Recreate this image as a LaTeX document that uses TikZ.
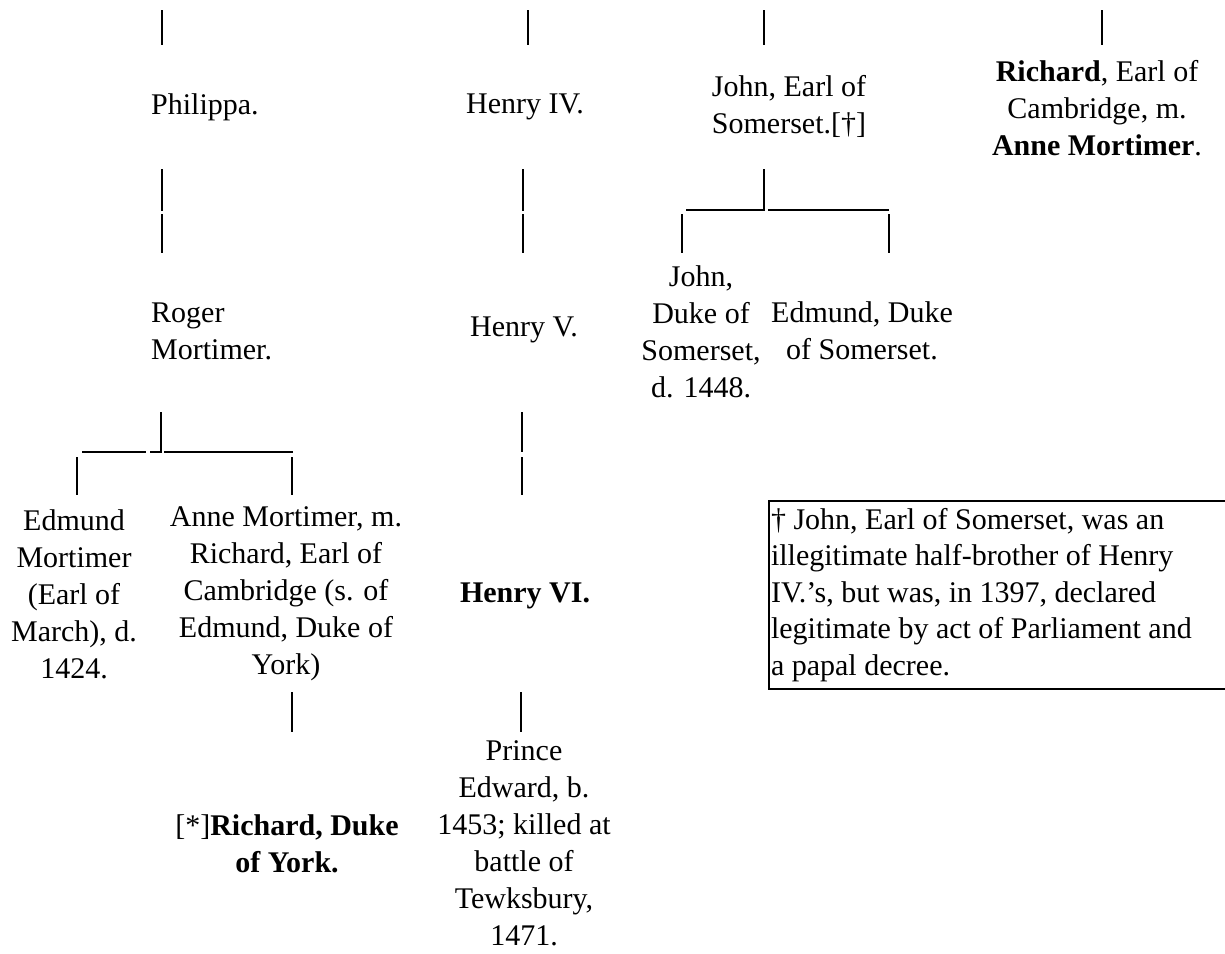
\documentclass[tikz,border=0pt]{standalone}
\usepackage{fontspec}
\setmainfont{Liberation Serif}
\tikzset{
person/.style = {align=center, inner sep=0pt, font=\fontsize{30}{37}\selectfont},
stem/.style = {line width=2pt},
footnote/.style = {draw, line width=2pt, align=flush left, text width=470pt, inner xsep=2pt, inner ysep=0pt, minimum height=188pt, anchor=north west, font=\fontsize{30}{36.5}\selectfont}
}
\begin{document}
\begin{tikzpicture}[x=1pt, y=-1pt]
\useasboundingbox (0,0) rectangle (1225,953);
% first generation
\node [person, anchor=west] (phil) at (151,107) {Philippa.};
\node [person] (henry4) at (525,107) {Henry IV.};
\node [person] (johnE) at (789,106) {John, Earl of\\Somerset.[†]};
\node [person] (richE) at (1097,108) {\textbf{Richard}, Earl of\\Cambridge, m.\\\textbf{Anne Mortimer}.};
% second generation
\node [person, anchor=west, align=left] (roger) at (151,331) {Roger\\Mortimer.};
\node [person] (henry5) at (524,330) {Henry V.};
\node [person] (johnD) at (701,332) {John,\\Duke of\\Somerset,\\d. 1448.};
\node [person] (edmundD) at (862,331) {Edmund, Duke\\of Somerset.};
% third generation
\node [person] (edmundM) at (74,594) {Edmund\\Mortimer\\(Earl of\\March), d.\\1424.};
\node [person] (anne) at (286,594) {Anne Mortimer, m.\\Richard, Earl of\\Cambridge (s. of\\Edmund, Duke of\\York)};
\node [person] (henry6) at (525,596) {\textbf{Henry VI.}};
% fourth generation
\node [person] (york) at (287,844) {[*]\textbf{Richard, Duke}\\\textbf{of York.}};
\node [person] (edward) at (524,843) {Prince\\Edward, b.\\1453; killed at\\battle of\\Tewksbury,\\1471.};
% note
\node [footnote] (note) at (768,500) {† John, Earl of Somerset, was an\\illegitimate half-brother of Henry\\IV.’s, but was, in 1397, declared\\legitimate by act of Parliament and\\a papal decree.};

% stems from above
\coordinate (phil t1) at (162,10);    \coordinate (phil t2) at (162,45);
\coordinate (henry4 t1) at (528,10);  \coordinate (henry4 t2) at (528,45);
\coordinate (johnE t1) at (764,10);   \coordinate (johnE t2) at (764,45);
\coordinate (richE t1) at (1102,10);  \coordinate (richE t2) at (1102,45);
\draw [stem] (phil t1) -- (phil t2);
\draw [stem] (henry4 t1) -- (henry4 t2);
\draw [stem] (johnE t1) -- (johnE t2);
\draw [stem] (richE t1) -- (richE t2);

% first to second generation
\coordinate (phil b1) at (162,169);   \coordinate (phil b2) at (162,211);
\coordinate (roger t1) at (162,214);  \coordinate (roger t2) at (162,253);
\coordinate (henry4 b1) at (523,169); \coordinate (henry4 b2) at (523,211);
\coordinate (henry5 t1) at (523,214); \coordinate (henry5 t2) at (523,253);
\coordinate (johnE b) at (764,169);   \coordinate (johnE bl) at (686,210);
\coordinate (johnE br1) at (768,210); \coordinate (johnE br2) at (889,210);
\coordinate (johnD t1) at (682,214);  \coordinate (johnD t2) at (682,253);
\coordinate (edmundD t1) at (889,214); \coordinate (edmundD t2) at (889,253);
\draw [stem] (phil b1) -- (phil b2);
\draw [stem] (roger t1) -- (roger t2);
\draw [stem] (henry4 b1) -- (henry4 b2);
\draw [stem] (henry5 t1) -- (henry5 t2);
\draw [stem] (johnE b) |- (johnE bl);
\draw [stem] (johnE br1) -- (johnE br2);
\draw [stem] (johnD t1) -- (johnD t2);
\draw [stem] (edmundD t1) -- (edmundD t2);

% second to third generation
\coordinate (roger b) at (161,412);   \coordinate (roger bm) at (150,452);
\coordinate (roger bl1) at (82,452);  \coordinate (roger bl2) at (146,452);
\coordinate (roger br1) at (164,452); \coordinate (roger br2) at (293,452);
\coordinate (edmundM t1) at (77,457); \coordinate (edmundM t2) at (77,495);
\coordinate (anne t1) at (292,457);   \coordinate (anne t2) at (292,495);
\coordinate (henry5 b1) at (522,412); \coordinate (henry5 b2) at (522,452);
\coordinate (henry6 t1) at (522,457); \coordinate (henry6 t2) at (522,495);
\draw [stem] (roger b) |- (roger bm);
\draw [stem] (roger bl1) -- (roger bl2);
\draw [stem] (roger br1) -- (roger br2);
\draw [stem] (edmundM t1) -- (edmundM t2);
\draw [stem] (anne t1) -- (anne t2);
\draw [stem] (henry5 b1) -- (henry5 b2);
\draw [stem] (henry6 t1) -- (henry6 t2);

% third to fourth generation
\coordinate (anne b1) at (292,692);   \coordinate (anne b2) at (292,732);
\coordinate (henry6 b1) at (521,692); \coordinate (henry6 b2) at (521,732);
\draw [stem] (anne b1) -- (anne b2);
\draw [stem] (henry6 b1) -- (henry6 b2);
\end{tikzpicture}
\end{document}
